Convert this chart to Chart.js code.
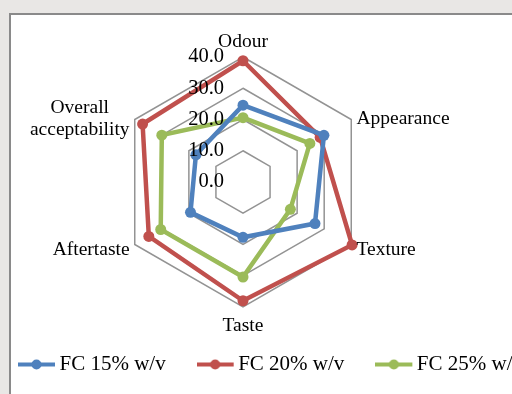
<!DOCTYPE html>
<html>
<head>
<meta charset="utf-8">
<script src="https://cdn.jsdelivr.net/npm/chart.js@4.4.1/dist/chart.umd.min.js"></script>
<style>
  html, body { margin: 0; padding: 0; width: 512px; height: 394px; overflow: hidden; background: #e9e7e5; }
  #frame { position: absolute; left: 9px; top: 13px; width: 620px; height: 500px; background: #fff;
           border: 2px solid #8a8a8a; box-sizing: border-box; }
  #c { position: absolute; left: -13px; top: 0; }
</style>
</head>
<body>
<div id="frame"></div>
<canvas id="c" width="620" height="385"></canvas>
<script>
// Sensory attributes (spokes, clockwise from the top)
const categories = ['Odour', 'Appearance', 'Texture', 'Taste', 'Aftertaste', ['Overall', 'acceptability']];

// Series
const seriesNames = ['FC 15% w/v', 'FC 20% w/v', 'FC 25% w/v'];
const fc15 = [24.6, 29.9, 26.6, 17.7, 19.4, 17.4];
const fc20 = [38.8, 28.5, 40.3, 38.0, 34.8, 37.1];
const fc25 = [20.6, 24.7, 17.5, 30.4, 30.4, 30.0];

// Radial axis
const axisMin = 0;
const axisMax = 40;
const axisStep = 10;

const seriesColors = ['#4f81bd', '#c0504d', '#9bbb59'];
const serif = "'Liberation Serif', 'Times New Roman', serif";

// Legend symbol: a short line with a round marker in the middle
function lineMarker(color) {
  const c = document.createElement('canvas');
  c.width = 40; c.height = 13;
  const g = c.getContext('2d');
  g.strokeStyle = color; g.lineWidth = 4;
  g.beginPath(); g.moveTo(0, 6.5); g.lineTo(37, 6.5); g.stroke();
  g.fillStyle = color;
  g.beginPath(); g.arc(18.5, 6.5, 5, 0, Math.PI * 2); g.fill();
  return c;
}
const legendIcons = seriesColors.map(lineMarker);

// Tick labels beside the vertical spoke and the attribute names around the web
const radarText = {
  id: 'radarText',
  afterDatasetsDraw(chart) {
    const s = chart.scales.r;
    const ctx = chart.ctx;
    ctx.save();
    ctx.fillStyle = '#000';
    ctx.font = '20.5px ' + serif;
    ctx.textAlign = 'right';
    ctx.textBaseline = 'middle';
    s.ticks.forEach(t => {
      const d = s.getDistanceFromCenterForValue(t.value);
      ctx.fillText(t.value.toFixed(1), s.xCenter - 19, s.yCenter - d);
    });

    const gaps = [4, 6, 6, 8, 6, 6];
    const lh = 22;
    ctx.font = '19.5px ' + serif;
    chart.data.labels.forEach((lab, i) => {
      const lines = Array.isArray(lab) ? lab : [lab];
      const p = s.getPointPosition(i, s.drawingArea + gaps[i]);
      const a = s.getIndexAngle(i);
      const sx = Math.sin(a), cy = Math.cos(a);
      const blockW = Math.max(...lines.map(l => ctx.measureText(l).width));
      const h = lines.length * lh;
      let top;
      if (cy > 0.9) top = p.y - h;
      else if (cy < -0.9) top = p.y;
      else top = p.y - h / 2 + 2;
      let cx;
      if (sx > 0.1) cx = p.x + blockW / 2;
      else if (sx < -0.1) cx = p.x - blockW / 2;
      else cx = p.x;
      ctx.textAlign = 'center';
      lines.forEach((l, k) => ctx.fillText(l, cx, top + lh * (k + 0.5)));
    });
    ctx.restore();
  }
};

const data = {
  labels: categories,
  datasets: [fc15, fc20, fc25].map((vals, i) => ({
    label: seriesNames[i],
    data: vals,
    borderColor: seriesColors[i],
    backgroundColor: seriesColors[i],
    pointBackgroundColor: seriesColors[i],
    pointBorderColor: seriesColors[i],
    pointBorderWidth: 0,
    pointRadius: 5.5,
    borderWidth: 4.5,
    fill: false,
    tension: 0
  }))
};

new Chart(document.getElementById('c'), {
  type: 'radar',
  data,
  options: {
    responsive: false,
    devicePixelRatio: 1,
    animation: false,
    events: [],
    layout: { padding: { top: 50, left: 0, right: 0, bottom: 0 } },
    scales: {
      r: {
        min: axisMin,
        max: axisMax,
        ticks: { stepSize: axisStep, display: false },
        grid: { color: '#939393', lineWidth: 1.5 },
        angleLines: { display: false },
        pointLabels: { display: false }
      }
    },
    plugins: {
      tooltip: { enabled: false },
      title: { display: true, position: 'left', text: '', font: { size: 1, lineHeight: 1 }, padding: { top: 130, bottom: 0 } },
      subtitle: { display: true, position: 'right', text: '', font: { size: 1, lineHeight: 1 }, padding: { top: 238, bottom: 0 } },
      legend: {
        position: 'bottom',
        align: 'start',
        labels: {
          usePointStyle: true,
          pointStyleWidth: 22,
          padding: 40,
          color: '#000',
          font: { family: serif, size: 21 },
          generateLabels: chart => chart.data.datasets.map((ds, i) => ({
            text: ds.label,
            pointStyle: legendIcons[i],
            fillStyle: ds.borderColor,
            strokeStyle: ds.borderColor,
            lineWidth: 0,
            hidden: false,
            datasetIndex: i
          }))
        }
      }
    }
  },
  plugins: [radarText]
});
</script>
</body>
</html>
